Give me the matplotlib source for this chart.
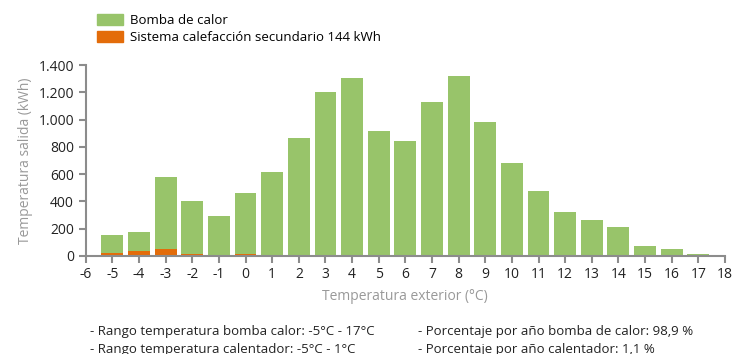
import numpy as np
import matplotlib
matplotlib.use('Agg')
import matplotlib.pyplot as plt
from matplotlib.patches import Patch

# ===== DATA =====
temps = [-5, -4, -3, -2, -1, 0, 1, 2, 3, 4, 5, 6, 7, 8, 9, 10, 11, 12, 13, 14, 15, 16, 17]
total_kwh = [154, 176, 580, 403, 293, 462, 617, 866, 1204, 1307, 918, 844, 1131, 1322,
             984, 683, 477, 323, 264, 213, 73, 51, 15]
secondary_kwh = [22, 37, 51, 15, 0, 15, 0, 0, 0, 0, 0, 0, 0, 0,
                 0, 0, 0, 0, 0, 0, 0, 0, 0]
heatpump_kwh = [t - s for t, s in zip(total_kwh, secondary_kwh)]

x_ticks = list(range(-6, 19))
y_ticks = [0, 200, 400, 600, 800, 1000, 1200, 1400]
y_tick_labels = ['0', '200', '400', '600', '800', '1.000', '1.200', '1.400']

GREEN = '#98c46a'
ORANGE = '#e36c0a'
AXIS = '#8c8c8c'
plt.rcParams['font.family'] = ['Open Sans', 'DejaVu Sans']

# ===== CHART =====
fig = plt.figure(figsize=(7.33, 3.54), dpi=100)
ax = fig.add_axes([0.117, 0.277, 0.872, 0.539])

ax.bar(temps, secondary_kwh, width=0.82, color=ORANGE)
ax.bar(temps, heatpump_kwh, width=0.82, bottom=secondary_kwh, color=GREEN)

ax.set_xlim(-6, 18)
ax.set_ylim(0, 1400)
ax.set_xticks(x_ticks)
ax.set_xticklabels([str(t) for t in x_ticks], fontsize=10, color='#222222')
ax.set_yticks(y_ticks)
ax.set_yticklabels(y_tick_labels, fontsize=10, color='#222222')

for side in ['top', 'right']:
    ax.spines[side].set_visible(False)
for side in ['left', 'bottom']:
    ax.spines[side].set_color(AXIS)
    ax.spines[side].set_linewidth(1.5)
ax.tick_params(axis='both', color=AXIS, width=1.5, length=5)
ax.tick_params(axis='x', pad=3)

ax.set_xlabel('Temperatura exterior (°C)', fontsize=10, color='#999999', labelpad=5)
ax.set_ylabel('Temperatura salida (kWh)', fontsize=10, color='#999999', labelpad=4)

handles = [Patch(color=GREEN, label='Bomba de calor'),
           Patch(color=ORANGE, label='Sistema calefacción secundario 144 kWh')]
fig.legend(handles=handles, loc='upper left', bbox_to_anchor=(0.125, 0.975),
           frameon=False, fontsize=9.5, handlelength=2.0, handleheight=0.8,
           handletextpad=0.5, labelspacing=0.3, borderaxespad=0)

notes_left = ['- Rango temperatura bomba calor: -5°C - 17°C',
              '- Rango temperatura calentador: -5°C - 1°C']
notes_right = ['- Porcentaje por año bomba de calor: 98,9 %',
               '- Porcentaje por año calentador: 1,1 %']
for i in range(2):
    y = 1 - (332 + 17 * i) / 354
    fig.text(90 / 733, y, notes_left[i], fontsize=9.5, color='#222222', va='center')
    fig.text(418 / 733, y, notes_right[i], fontsize=9.5, color='#222222', va='center')

fig.savefig('out.png', dpi=100)
